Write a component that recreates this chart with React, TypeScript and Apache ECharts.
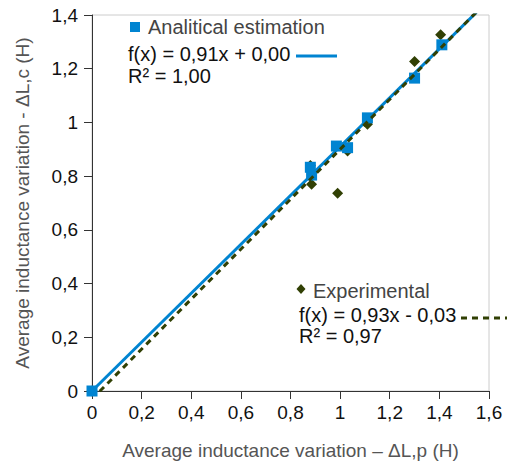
import React, { useEffect, useRef } from "react";
import * as echarts from "echarts";

const analyticalX = [0, 0.88, 0.885, 0.985, 1.03, 1.11, 1.3, 1.41];
const analyticalY = [0, 0.833, 0.804, 0.912, 0.906, 1.017, 1.165, 1.289];
const experimentalX = [0, 0.88, 0.885, 0.99, 1.03, 1.11, 1.3, 1.405];
const experimentalY = [0, 0.84, 0.77, 0.736, 0.894, 0.993, 1.227, 1.326];

const analyticalName = "Analitical estimation";
const experimentalName = "Experimental";
const analyticalFit = { slope: 0.91, intercept: 0.0 };
const experimentalFit = { slope: 0.93, intercept: -0.03 };
const analyticalEq = "f(x) = 0,91x + 0,00";
const analyticalR2 = "R² = 1,00";
const experimentalEq = "f(x) = 0,93x - 0,03";
const experimentalR2 = "R² = 0,97";

const xAxisName = "Average inductance variation – ΔL,p (H)";
const yAxisName = "Average inductance variation - ΔL,c (H)";

const BLUE = "#0084d1";
const OLIVE = "#314004";
const FONT = "Liberation Sans, Arial, sans-serif";

const fmt = (v: number) => String(Math.round(v * 10) / 10).replace(".", ",");

export default function App() {
  const ref = useRef<HTMLDivElement>(null);
  useEffect(() => {
    if (!ref.current) return;
    const chart = echarts.init(ref.current, undefined, { renderer: "svg" });
    const fitLine = (f: { slope: number; intercept: number }) =>
      [0, 1.6].map((x) => [x, f.slope * x + f.intercept]);
    chart.setOption({
      animation: false,
      backgroundColor: "#fff",
      grid: { left: 92, top: 15, right: 18, bottom: 72, show: true, borderColor: "#cccccc", borderWidth: 1 },
      xAxis: {
        type: "value",
        min: 0,
        max: 1.6,
        interval: 0.2,
        name: xAxisName,
        nameLocation: "middle",
        nameGap: 50,
        nameTextStyle: { fontFamily: FONT, fontSize: 19, color: "#555" },
        axisLine: { show: true, lineStyle: { color: "#333", width: 1 } },
        axisTick: { show: true, length: 8, lineStyle: { color: "#333" } },
        axisLabel: { formatter: fmt, fontFamily: FONT, fontSize: 19, color: "#111", margin: 12 },
        splitLine: { show: false },
      },
      yAxis: {
        type: "value",
        min: 0,
        max: 1.4,
        interval: 0.2,
        name: yAxisName,
        nameLocation: "middle",
        nameGap: 60,
        nameTextStyle: { fontFamily: FONT, fontSize: 19, color: "#555" },
        axisLine: { show: true, lineStyle: { color: "#333", width: 1 } },
        axisTick: { show: true, length: 8, lineStyle: { color: "#333" } },
        axisLabel: { formatter: fmt, fontFamily: FONT, fontSize: 19, color: "#111", margin: 14 },
        splitLine: { show: false },
      },
      series: [
        {
          name: experimentalName,
          type: "scatter",
          symbol: "diamond",
          symbolSize: 11,
          itemStyle: { color: OLIVE, opacity: 1 },
          data: experimentalX.map((x, i) => [x, experimentalY[i]]),
          z: 2,
        },
        {
          name: analyticalName,
          type: "scatter",
          symbol: "rect",
          symbolSize: 11,
          itemStyle: { color: BLUE, opacity: 1 },
          data: analyticalX.map((x, i) => [x, analyticalY[i]]),
          z: 3,
        },
        {
          name: "analyticalTrend",
          type: "line",
          symbol: "none",
          clip: true,
          lineStyle: { color: BLUE, width: 3 },
          data: fitLine(analyticalFit),
          z: 4,
        },
        {
          name: "experimentalTrend",
          type: "line",
          symbol: "none",
          clip: true,
          lineStyle: { color: OLIVE, width: 3, type: [6, 5] },
          data: fitLine(experimentalFit),
          z: 5,
        },
      ],
      graphic: [
        { type: "rect", shape: { x: 130, y: 22, width: 10, height: 10 }, style: { fill: BLUE } },
        { type: "text", x: 148, y: 27, style: { text: analyticalName, font: `20px ${FONT}`, fill: "#444", verticalAlign: "middle" } },
        { type: "text", x: 128, y: 54, style: { text: analyticalEq, font: `20px ${FONT}`, fill: "#111", verticalAlign: "middle" } },
        { type: "line", shape: { x1: 296, y1: 56, x2: 337, y2: 56 }, style: { stroke: BLUE, lineWidth: 3 } },
        { type: "text", x: 128, y: 76, style: { text: analyticalR2, font: `20px ${FONT}`, fill: "#111", verticalAlign: "middle" } },
        { type: "polygon", shape: { points: [[301, 284], [305.5, 289], [301, 294], [296.5, 289]] }, style: { fill: OLIVE } },
        { type: "text", x: 313, y: 291, style: { text: experimentalName, font: `20px ${FONT}`, fill: "#444", verticalAlign: "middle" } },
        { type: "text", x: 299, y: 315, style: { text: experimentalEq, font: `20px ${FONT}`, fill: "#111", verticalAlign: "middle" } },
        { type: "line", shape: { x1: 461, y1: 318, x2: 507, y2: 318 }, style: { stroke: OLIVE, lineWidth: 3, lineDash: [6, 5] } },
        { type: "text", x: 299, y: 336, style: { text: experimentalR2, font: `20px ${FONT}`, fill: "#111", verticalAlign: "middle" } },
      ],
    });
    return () => chart.dispose();
  }, []);
  return <div ref={ref} style={{ width: 507, height: 465, position: "absolute", left: 0, top: 0 }} />;
}
